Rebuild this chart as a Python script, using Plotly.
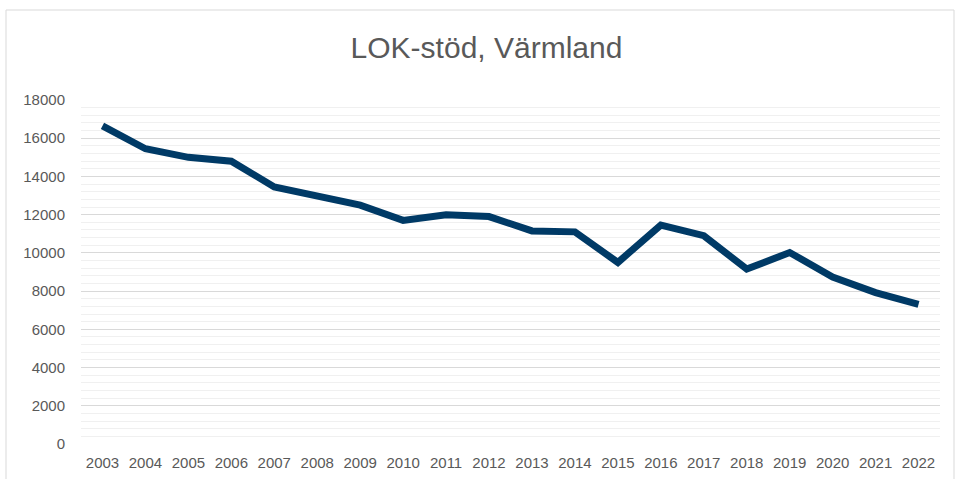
import plotly.graph_objects as go

years = ["2003", "2004", "2005", "2006", "2007", "2008", "2009", "2010", "2011", "2012",
         "2013", "2014", "2015", "2016", "2017", "2018", "2019", "2020", "2021", "2022"]
lok_stod = [16650, 15450, 15000, 14800, 13450, 12950, 12500, 11700, 12000, 11900,
            11150, 11100, 9500, 11460, 10900, 9150, 10020, 8740, 7920, 7300]
y_ticks = [0, 2000, 4000, 6000, 8000, 10000, 12000, 14000, 16000, 18000]

FONT = "Arial, Liberation Sans, sans-serif"

fig = go.Figure()
fig.add_trace(go.Scatter(
    x=years, y=lok_stod, mode="lines",
    line=dict(color="#003a66", width=7),
    hoverinfo="x+y",
))

fig.update_layout(
    width=955, height=479,
    margin=dict(l=81, r=15, t=100, b=35),
    paper_bgcolor="white", plot_bgcolor="white",
    showlegend=False,
    font=dict(family=FONT, color="#595959", size=15),
    title=dict(text="LOK-stöd, Värmland", x=486.5 / 955, xanchor="center",
               y=1 - 47 / 479, yanchor="middle", yref="container",
               font=dict(family=FONT, size=30, color="#595959")),
    xaxis=dict(type="category", range=[-0.5, 19.5], showgrid=False, zeroline=False,
               showline=False, ticks="", ticklabelstandoff=8, automargin=False,
               tickfont=dict(size=15, color="#595959")),
    yaxis=dict(range=[0, 18000], tickvals=y_ticks, ticktext=[str(v) for v in y_ticks],
               showgrid=True, gridcolor="#d9d9d9", gridwidth=1, zeroline=False,
               showline=False, ticks="", ticklabelstandoff=15, automargin=False,
               tickfont=dict(size=15, color="#595959"),
               minor=dict(dtick=400, showgrid=True, gridcolor="#f0f0f0", gridwidth=1)),
    shapes=[dict(type="rect", xref="paper", yref="paper",
                 x0=(6 - 81) / 859, x1=(954 - 81) / 859,
                 y0=-0.3, y1=(444 - 10) / 344,
                 line=dict(color="#d9d9d9", width=1), layer="below")],
)

fig.write_html("out.html", config={"displayModeBar": False},
               post_script="document.body.style.margin='0';document.body.style.overflow='hidden';")
